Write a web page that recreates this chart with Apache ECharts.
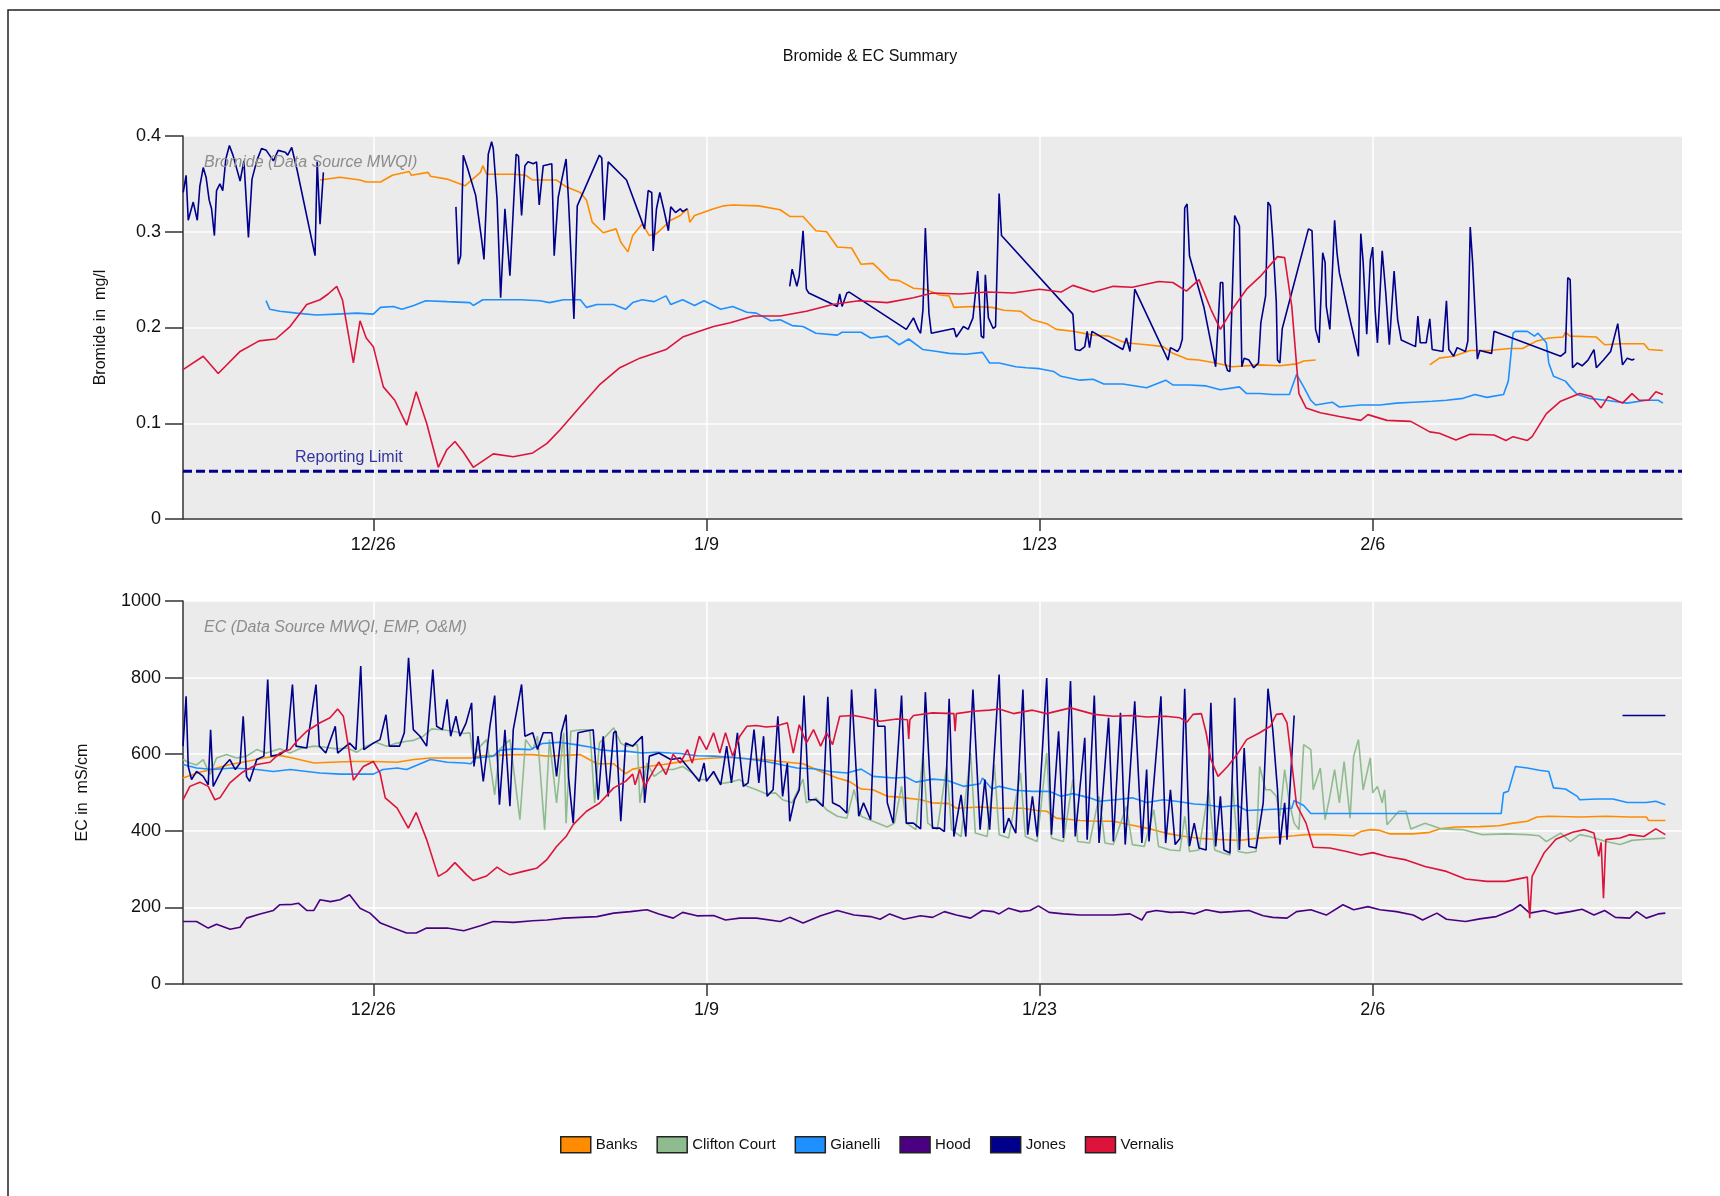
<!DOCTYPE html>
<html>
<head>
<meta charset="utf-8">
<title>Bromide & EC Summary</title>
<script src="https://cdn.jsdelivr.net/npm/echarts@6/dist/echarts.min.js"></script>
<style>
  html, body { margin: 0; padding: 0; background: #fff; }
  #chart { width: 1720px; height: 1196px; }
</style>
</head>
<body>
<div id="chart"></div>
<script>
// x values are days counted from 12/18
var tickDays = [8, 22, 36, 50];
var tickLabels = ['12/26', '1/9', '1/23', '2/6'];
var stations = ['Banks', 'Clifton Court', 'Gianelli', 'Hood', 'Jones', 'Vernalis'];
var stationColors = ['#FF8C00', '#8FBC8F', '#1E90FF', '#4B0082', '#00008B', '#DC143C'];

var reportingLimit = [[0, 0.05], [63, 0.05]];
var reportingLabelAt = [[6.97, 0.05]];

// Bromide, mg/l
var brBanks = [[5.76,0.354],[6.6,0.357],[7.44,0.354],[7.7,0.352],[8.3,0.352],[8.8,0.359],[9.5,0.363],[9.6,0.359],[10.3,0.362],[10.4,0.358],[11.1,0.355],[11.85,0.348],[12.5,0.362],[12.6,0.369],[12.76,0.360],[13.9,0.360],[14.4,0.359],[14.7,0.354],[15.7,0.354],[16.1,0.347],[16.7,0.341],[16.96,0.333],[17.2,0.310],[17.66,0.299],[18.2,0.303],[18.4,0.289],[18.7,0.279],[18.9,0.296],[19.3,0.308],[19.6,0.296],[19.9,0.298],[20.5,0.312],[20.9,0.317],[21.2,0.324],[21.3,0.310],[21.5,0.317],[22.3,0.324],[22.7,0.327],[23.1,0.328],[24.2,0.327],[25.1,0.323],[25.5,0.316],[26.06,0.316],[26.6,0.301],[27.05,0.300],[27.5,0.284],[28.1,0.283],[28.5,0.266],[29.0,0.267],[29.7,0.250],[30.1,0.249],[30.7,0.241],[31.2,0.240],[31.8,0.234],[32.2,0.233],[32.4,0.221],[33.2,0.222],[34.0,0.221],[34.5,0.218],[35.2,0.217],[35.7,0.208],[36.3,0.204],[36.7,0.198],[37.4,0.196],[38.25,0.192],[38.9,0.191],[39.6,0.184],[40.5,0.182],[41.2,0.180],[41.6,0.173],[42.2,0.167],[42.7,0.166],[43.4,0.163],[44.1,0.159],[45.25,0.161],[46.1,0.160],[46.8,0.162],[47.1,0.165],[47.6,0.166],[47.7,null],[52.4,0.161],[52.8,0.168],[53.4,0.170],[54.1,0.176],[54.9,0.176],[55.75,0.178],[56.3,0.178],[56.9,0.186],[57.4,0.189],[58.0,0.190],[58.1,0.195],[58.3,0.191],[59.4,0.190],[59.75,0.182],[60.4,0.183],[61.4,0.183],[61.6,0.177],[62.2,0.176]];

var brGianelli = [[3.49,0.228],[3.65,0.219],[4.07,0.217],[4.78,0.215],[5.6,0.213],[6.46,0.214],[7.3,0.215],[8.0,0.214],[8.3,0.221],[8.84,0.222],[9.2,0.219],[9.7,0.223],[10.2,0.228],[11.1,0.227],[12.06,0.226],[12.2,0.223],[12.6,0.229],[13.3,0.229],[14.2,0.229],[15.0,0.228],[15.4,0.226],[16.0,0.229],[16.7,0.229],[16.96,0.221],[17.4,0.224],[18.1,0.224],[18.6,0.219],[18.9,0.226],[19.3,0.229],[19.8,0.227],[20.3,0.233],[20.5,0.224],[21.0,0.229],[21.5,0.223],[21.9,0.228],[22.6,0.219],[23.1,0.222],[23.7,0.216],[24.1,0.215],[24.7,0.207],[25.1,0.208],[25.6,0.202],[26.06,0.201],[26.6,0.194],[27.5,0.192],[27.7,0.195],[28.5,0.195],[28.9,0.189],[29.6,0.191],[30.1,0.182],[30.5,0.188],[31.1,0.177],[31.7,0.175],[32.2,0.173],[32.9,0.172],[33.6,0.174],[33.9,0.163],[34.3,0.163],[35.0,0.159],[35.45,0.158],[36.0,0.157],[36.6,0.154],[36.9,0.149],[37.7,0.145],[38.25,0.146],[38.7,0.141],[39.5,0.141],[40.5,0.137],[41.3,0.145],[41.6,0.140],[42.3,0.140],[43.0,0.139],[43.6,0.135],[44.4,0.138],[44.7,0.131],[45.25,0.131],[45.8,0.130],[46.5,0.130],[46.8,0.151],[47.1,0.138],[47.4,0.124],[47.6,0.119],[48.3,0.122],[48.6,0.117],[49.5,0.119],[50.3,0.119],[51.0,0.121],[51.7,0.122],[52.5,0.123],[53.1,0.124],[53.8,0.126],[54.3,0.130],[54.8,0.127],[55.5,0.130],[55.7,0.144],[55.9,0.194],[56.0,0.196],[56.5,0.196],[56.8,0.191],[56.95,0.194],[57.3,0.184],[57.4,0.163],[57.6,0.149],[58.1,0.144],[58.3,0.138],[58.6,0.130],[59.1,0.126],[59.8,0.124],[60.7,0.121],[61.5,0.124],[62.0,0.124],[62.2,0.121]];

var brJones = [[0.01,0.341],[0.13,0.359],[0.22,0.312],[0.43,0.331],[0.6,0.312],[0.71,0.348],[0.85,0.367],[0.97,0.357],[1.1,0.333],[1.2,0.324],[1.32,0.296],[1.41,0.343],[1.55,0.350],[1.67,0.343],[1.8,0.376],[1.95,0.390],[2.1,0.380],[2.3,0.362],[2.4,0.353],[2.56,0.374],[2.75,0.294],[2.9,0.355],[3.1,0.374],[3.3,0.387],[3.5,0.385],[3.8,0.374],[4.0,0.385],[4.3,0.383],[4.4,0.380],[4.57,0.388],[4.8,0.364],[5.55,0.275],[5.64,0.373],[5.76,0.308],[5.9,0.362],[6.0,null],
  [11.47,0.326],[11.57,0.266],[11.67,0.275],[11.78,0.380],[11.95,0.367],[12.3,0.338],[12.55,0.292],[12.65,0.271],[12.83,0.381],[12.97,0.394],[13.04,0.387],[13.2,0.334],[13.35,0.231],[13.53,0.324],[13.74,0.254],[14.0,0.381],[14.1,0.379],[14.23,0.317],[14.37,0.369],[14.5,0.373],[14.72,0.371],[14.86,0.373],[14.97,0.328],[15.14,0.369],[15.5,0.371],[15.6,0.275],[15.77,0.336],[15.9,0.352],[16.1,0.376],[16.2,0.334],[16.43,0.209],[16.57,0.327],[17.5,0.380],[17.6,0.377],[17.7,0.312],[17.87,0.373],[18.64,0.354],[19.4,0.303],[19.55,0.343],[19.7,0.341],[19.76,0.280],[19.9,0.324],[20.04,0.341],[20.2,0.324],[20.4,0.301],[20.5,0.326],[20.7,0.320],[20.9,0.324],[21.0,0.321],[21.2,0.324],[21.3,null],
  [25.5,0.243],[25.6,0.261],[25.8,0.243],[25.9,0.254],[26.06,0.301],[26.2,0.240],[26.3,0.236],[27.5,0.222],[27.6,0.235],[27.7,0.222],[27.9,0.236],[28.0,0.237],[30.4,0.198],[30.7,0.210],[30.9,0.198],[31.0,0.194],[31.1,0.219],[31.2,0.304],[31.35,0.215],[31.45,0.194],[32.4,0.199],[32.5,0.190],[32.8,0.201],[33.0,0.198],[33.2,0.210],[33.4,0.259],[33.55,0.191],[33.65,0.189],[33.72,0.255],[33.85,0.210],[34.05,0.199],[34.15,0.201],[34.3,0.340],[34.4,0.296],[37.4,0.214],[37.5,0.177],[37.7,0.176],[37.9,0.180],[38.0,0.196],[38.1,0.179],[38.2,0.196],[39.5,0.177],[39.65,0.189],[39.8,0.175],[40.0,0.240],[41.4,0.166],[41.5,0.179],[41.8,0.175],[41.9,0.179],[42.0,0.188],[42.1,0.325],[42.2,0.329],[42.3,0.275],[42.9,0.222],[43.4,0.159],[43.6,0.247],[43.7,0.247],[43.8,0.163],[43.9,0.155],[44.0,0.154],[44.2,0.317],[44.4,0.306],[44.5,0.159],[44.6,0.168],[44.8,0.166],[45.0,0.158],[45.2,0.163],[45.3,0.205],[45.5,0.233],[45.6,0.331],[45.7,0.327],[45.8,0.292],[45.95,0.226],[46.0,0.166],[46.1,0.163],[46.2,0.199],[47.3,0.303],[47.45,0.301],[47.6,0.198],[47.75,0.184],[47.9,0.278],[48.0,0.268],[48.05,0.222],[48.2,0.198],[48.4,0.312],[48.5,0.278],[48.6,0.257],[49.4,0.170],[49.5,0.298],[49.6,0.268],[49.75,0.193],[49.9,0.270],[50.0,0.284],[50.1,0.219],[50.2,0.184],[50.4,0.280],[50.55,0.236],[50.7,0.182],[50.9,0.259],[51.05,0.208],[51.2,0.187],[51.8,0.180],[51.9,0.212],[52.0,0.184],[52.25,0.184],[52.4,0.209],[52.5,0.177],[52.95,0.175],[53.1,0.228],[53.2,0.177],[53.4,0.170],[53.55,0.179],[53.9,0.175],[54.0,0.186],[54.1,0.305],[54.2,0.268],[54.4,0.167],[54.5,0.176],[55.0,0.173],[55.1,0.196],[57.9,0.170],[58.1,0.174],[58.2,0.252],[58.3,0.250],[58.4,0.158],[58.6,0.163],[58.8,0.160],[59.05,0.166],[59.3,0.177],[59.4,0.158],[59.7,0.166],[60.0,0.175],[60.3,0.204],[60.5,0.161],[60.7,0.168],[60.9,0.166],[61.0,0.167]];

var brVernalis = [[0,0.156],[0.85,0.170],[1.48,0.152],[2.4,0.175],[3.2,0.186],[3.9,0.188],[4.5,0.201],[5.2,0.224],[5.76,0.229],[6.1,0.235],[6.46,0.243],[6.7,0.229],[7.16,0.163],[7.44,0.207],[7.7,0.189],[8.0,0.180],[8.42,0.138],[8.9,0.124],[9.4,0.098],[9.8,0.133],[10.24,0.100],[10.73,0.054],[11.08,0.072],[11.43,0.081],[11.78,0.070],[12.2,0.054],[13.04,0.068],[13.88,0.065],[14.7,0.069],[15.3,0.079],[15.84,0.093],[16.68,0.117],[17.5,0.140],[18.36,0.158],[19.2,0.168],[20.3,0.177],[21.0,0.190],[21.7,0.196],[22.3,0.201],[23.0,0.205],[23.97,0.212],[25.1,0.212],[26.2,0.217],[27.3,0.224],[28.4,0.228],[29.6,0.226],[30.7,0.231],[31.5,0.236],[32.65,0.235],[33.8,0.237],[34.9,0.236],[36.0,0.240],[36.9,0.237],[37.4,0.244],[38.25,0.237],[39.1,0.243],[39.9,0.242],[41.0,0.248],[41.6,0.247],[42.17,0.238],[42.7,0.250],[43.2,0.219],[43.6,0.198],[44.1,0.219],[44.7,0.240],[45.3,0.254],[46.0,0.274],[46.3,0.273],[46.6,0.222],[46.9,0.131],[47.2,0.116],[47.8,0.111],[48.6,0.107],[49.5,0.103],[49.8,0.109],[50.6,0.103],[51.6,0.102],[52.4,0.091],[52.8,0.0895],[53.5,0.0825],[54.1,0.0885],[55.1,0.0878],[55.6,0.082],[55.9,0.086],[56.5,0.082],[56.7,0.086],[57.3,0.110],[57.9,0.123],[58.7,0.131],[59.2,0.128],[59.6,0.116],[59.9,0.128],[60.5,0.121],[60.9,0.131],[61.2,0.124],[61.6,0.124],[61.9,0.133],[62.2,0.130]];

// EC, mS/cm
var ecBanks = [[0,538],[0.7,553],[1.27,561],[1.97,573],[2.67,581],[3.4,590],[4.07,597],[4.6,590],[5.5,577],[6.2,579],[7.16,581],[8.0,581],[9.0,579],[9.7,586],[10.4,590],[11.4,590],[12.1,590],[12.5,596],[13.2,597],[13.9,599],[14.7,599],[15.3,595],[16.0,597],[16.7,599],[16.96,590],[17.4,575],[18.1,575],[18.4,560],[18.6,549],[18.9,561],[19.5,568],[20.2,573],[20.9,580],[21.6,587],[22.3,590],[23.0,592],[23.7,588],[24.4,586],[25.1,581],[26.06,575],[26.8,555],[27.5,538],[28.0,529],[28.5,509],[29.0,507],[29.6,490],[30.1,488],[31.0,481],[31.5,473],[32.2,471],[32.5,459],[33.5,462],[34.3,459],[35.3,459],[35.9,453],[36.3,451],[36.7,433],[37.4,429],[37.7,427],[38.4,425],[39.1,425],[39.8,416],[40.5,407],[41.3,394],[41.9,387],[42.6,381],[43.3,378],[44.4,375],[45.25,381],[46.1,384],[46.7,387],[47.2,390],[48.2,390],[49.2,387],[49.5,398],[49.9,403],[50.3,401],[50.7,392],[51.7,392],[52.4,396],[52.8,405],[53.5,410],[54.5,411],[55.3,413],[55.9,420],[56.5,425],[56.9,436],[57.4,438],[58.7,436],[59.8,438],[60.8,436],[61.5,436],[61.6,427],[62.3,427]];

var ecCliftonCourt = [[0,586],[0.29,577],[0.57,572],[0.85,586],[1.13,547],[1.41,590],[1.83,599],[2.25,590],[2.67,595],[3.1,612],[3.5,603],[4.07,614],[4.5,603],[4.9,614],[5.5,621],[5.9,619],[6.46,614],[6.9,616],[7.3,605],[7.7,621],[8.1,631],[8.56,621],[9.0,629],[9.4,634],[9.68,636],[10.1,647],[10.45,666],[10.9,664],[11.36,660],[11.8,654],[12.06,656],[12.2,595],[12.5,621],[12.76,638],[13.1,494],[13.3,612],[13.74,638],[14.16,429],[14.4,638],[14.7,612],[14.9,647],[15.2,403],[15.4,638],[15.7,473],[16.0,656],[16.1,420],[16.3,660],[16.7,664],[17.1,664],[17.3,473],[17.5,629],[18.1,669],[18.4,629],[18.6,621],[19.1,625],[19.2,473],[19.5,577],[19.8,542],[20.2,560],[20.6,560],[21.0,568],[21.4,551],[21.7,534],[22.0,534],[22.3,551],[22.56,523],[23.0,527],[23.4,534],[23.7,516],[24.1,507],[24.5,497],[24.9,499],[25.2,481],[25.6,473],[26.06,535],[26.2,473],[26.6,486],[27.05,455],[27.5,438],[27.9,433],[28.2,507],[28.5,438],[29.0,425],[29.6,410],[29.9,420],[30.2,516],[30.4,420],[30.8,403],[31.1,603],[31.3,420],[31.7,403],[32.1,568],[32.3,403],[32.7,385],[33.1,603],[33.3,394],[33.8,385],[34.1,573],[34.3,390],[34.7,381],[35.2,551],[35.4,385],[35.9,372],[36.3,603],[36.5,381],[37.0,372],[37.4,534],[37.6,372],[38.1,368],[38.5,490],[38.75,368],[39.1,364],[39.65,464],[39.9,364],[40.4,359],[40.8,455],[41.0,359],[41.5,350],[41.9,348],[42.1,438],[42.3,346],[42.7,350],[43.1,507],[43.36,350],[43.7,342],[44.0,337],[44.1,525],[44.35,346],[44.7,342],[45.1,346],[45.25,568],[45.5,507],[45.7,507],[45.95,490],[46.1,438],[46.3,560],[46.5,473],[46.7,420],[46.9,403],[47.1,625],[47.4,612],[47.5,507],[47.8,564],[48.0,429],[48.2,490],[48.4,560],[48.6,473],[48.8,581],[49.05,433],[49.2,595],[49.4,638],[49.6,507],[49.9,590],[50.0,499],[50.2,516],[50.4,473],[50.5,507],[50.6,416],[51.1,451],[51.4,451],[51.6,405],[52.2,420],[52.9,405],[53.8,403],[54.6,390],[55.6,392],[56.5,390],[57.0,387],[57.3,372],[57.9,394],[58.3,372],[58.7,390],[59.1,385],[59.8,372],[60.4,364],[60.9,375],[61.5,378],[62.3,381]];

var ecGianelli = [[0,573],[0.57,564],[1.27,560],[2.1,564],[3.1,560],[3.8,555],[4.5,560],[5.2,555],[5.76,551],[6.6,548],[7.3,548],[8.0,548],[8.4,560],[9.0,564],[9.4,560],[9.7,568],[10.4,586],[11.1,579],[11.8,577],[12.1,575],[12.3,590],[13.04,595],[13.3,610],[13.9,614],[14.6,612],[15.1,628],[15.8,631],[16.5,625],[17.1,619],[17.5,612],[18.1,608],[18.6,608],[19.3,603],[19.9,605],[20.5,603],[20.9,602],[21.6,596],[22.3,595],[23.0,592],[23.7,588],[24.5,581],[25.1,573],[25.8,564],[26.5,562],[27.2,555],[27.9,551],[28.5,561],[29.0,542],[29.9,538],[30.4,540],[30.8,527],[31.5,535],[32.1,532],[32.8,516],[33.5,523],[33.6,538],[34.0,509],[34.3,516],[35.0,506],[35.7,503],[36.4,503],[36.9,490],[37.4,497],[38.1,486],[38.5,477],[39.2,481],[39.9,486],[40.5,474],[41.2,481],[41.9,476],[42.5,470],[43.0,468],[43.6,462],[44.3,466],[44.7,453],[45.4,455],[46.1,457],[46.6,459],[46.7,479],[47.1,466],[47.4,445],[48.9,445],[51.7,445],[55.4,445],[55.5,499],[55.7,503],[56.0,568],[56.5,564],[57.0,558],[57.4,555],[57.6,512],[58.1,509],[58.6,490],[58.7,481],[59.4,483],[60.1,483],[60.7,474],[61.5,474],[61.9,477],[62.3,468]];

var ecHood = [[0,163],[0.57,163],[1.06,146],[1.41,156],[1.98,143],[2.4,148],[2.67,172],[3.2,182],[3.8,192],[4.07,207],[4.6,208],[4.85,211],[5.2,192],[5.5,192],[5.76,220],[6.2,215],[6.6,220],[7.0,233],[7.44,198],[7.86,185],[8.3,159],[8.84,146],[9.4,133],[9.8,133],[10.24,146],[11.1,146],[11.8,139],[12.5,152],[13.04,163],[13.9,161],[14.7,165],[15.3,167],[16.0,172],[16.7,174],[17.4,176],[18.1,185],[18.8,189],[19.5,194],[20.0,183],[20.6,172],[21.0,187],[21.6,178],[22.3,179],[22.8,167],[23.4,172],[24.1,172],[25.1,163],[25.5,174],[26.06,159],[26.8,178],[27.5,192],[28.2,180],[28.9,176],[29.3,169],[29.7,183],[30.3,169],[31.0,178],[31.5,174],[32.0,189],[32.5,180],[33.1,172],[33.6,192],[34.05,189],[34.3,183],[34.7,198],[35.2,189],[35.6,192],[35.95,204],[36.4,187],[37.0,183],[37.7,180],[38.4,180],[39.1,180],[39.8,183],[40.3,167],[40.5,187],[40.9,192],[41.5,187],[42.0,188],[42.5,183],[43.0,194],[43.6,187],[44.1,189],[44.8,192],[45.4,178],[45.8,174],[46.4,172],[46.8,189],[47.4,194],[48.05,180],[48.75,207],[49.2,194],[49.8,202],[50.3,194],[51.0,189],[51.7,180],[52.1,167],[52.7,185],[53.1,169],[53.9,163],[54.5,170],[55.2,176],[55.9,194],[56.2,207],[56.6,185],[57.2,192],[57.7,183],[58.3,189],[58.8,195],[59.3,180],[59.75,192],[60.2,174],[60.8,172],[61.1,189],[61.5,172],[62.0,183],[62.3,185]];

var ecJones = [[0,621],[0.13,751],[0.22,568],[0.36,534],[0.57,555],[0.85,542],[1.06,520],[1.16,664],[1.27,516],[1.7,568],[1.97,586],[2.2,560],[2.4,577],[2.53,699],[2.67,542],[2.8,529],[3.1,586],[3.4,595],[3.56,795],[3.7,595],[4.07,599],[4.36,612],[4.6,782],[4.75,621],[5.2,616],[5.59,782],[5.73,621],[6.0,603],[6.4,673],[6.5,603],[7.0,629],[7.27,612],[7.47,830],[7.6,612],[8.0,629],[8.28,638],[8.53,703],[8.67,621],[9.1,621],[9.3,656],[9.48,852],[9.68,664],[9.96,647],[10.24,621],[10.5,821],[10.66,673],[10.9,664],[11.1,743],[11.25,647],[11.47,699],[11.64,647],[11.9,682],[12.13,734],[12.23,568],[12.4,647],[12.62,529],[12.9,673],[13.1,753],[13.3,468],[13.53,664],[13.74,464],[13.88,664],[14.23,782],[14.37,647],[14.7,656],[14.9,612],[15.14,656],[15.5,656],[15.7,542],[15.9,656],[16.1,703],[16.2,542],[16.4,420],[16.6,656],[16.9,660],[17.24,664],[17.45,481],[17.66,647],[17.87,490],[18.1,656],[18.2,660],[18.4,425],[18.6,629],[18.9,621],[19.3,647],[19.4,473],[19.6,595],[20.0,603],[20.5,586],[20.9,590],[21.3,560],[21.7,529],[21.9,577],[22.0,529],[22.3,555],[22.6,520],[22.85,621],[23.05,525],[23.3,656],[23.55,516],[23.75,525],[24.0,664],[24.2,525],[24.4,647],[24.55,490],[24.8,507],[25.0,699],[25.2,490],[25.4,577],[25.5,425],[25.7,481],[25.9,507],[26.1,753],[26.3,481],[26.6,481],[26.9,464],[27.1,750],[27.3,473],[27.6,464],[27.9,446],[28.1,769],[28.4,438],[28.6,473],[28.9,429],[29.1,771],[29.2,673],[29.5,673],[29.6,473],[29.85,420],[30.2,753],[30.4,420],[30.7,420],[31.0,405],[31.2,762],[31.5,407],[31.8,407],[32.0,398],[32.2,745],[32.4,385],[32.7,494],[32.9,385],[33.2,769],[33.5,403],[33.7,534],[33.9,403],[34.3,808],[34.5,394],[34.7,433],[35.0,394],[35.3,769],[35.5,390],[35.7,490],[35.9,385],[36.3,799],[36.5,390],[36.8,660],[37.0,381],[37.3,791],[37.5,385],[37.9,643],[38.0,377],[38.3,753],[38.5,368],[38.9,695],[39.1,372],[39.4,708],[39.6,364],[40.0,738],[40.3,368],[40.5,560],[40.6,372],[41.1,751],[41.3,368],[41.5,507],[41.7,364],[41.9,380],[42.1,771],[42.3,360],[42.5,420],[42.7,355],[43.0,350],[43.2,734],[43.4,359],[43.6,490],[43.75,350],[44.0,342],[44.2,747],[44.4,350],[44.6,616],[44.8,359],[45.1,355],[45.4,473],[45.6,771],[45.8,664],[46.0,507],[46.1,364],[46.3,473],[46.4,377],[46.7,701],[46.8,null],[60.5,701],[62.3,701]];

var ecVernalis = [[0,481],[0.29,516],[0.71,527],[1.06,516],[1.34,481],[1.55,486],[1.97,525],[2.5,553],[3.1,573],[3.66,579],[4.07,603],[4.5,612],[4.78,634],[5.2,660],[5.76,682],[6.18,695],[6.5,718],[6.74,699],[6.95,621],[7.16,532],[7.58,568],[8.0,581],[8.28,551],[8.5,486],[9.0,459],[9.47,407],[9.8,448],[10.24,377],[10.73,281],[11.08,294],[11.43,317],[11.92,285],[12.2,270],[12.76,282],[13.2,305],[13.46,294],[13.74,285],[14.3,294],[14.86,302],[15.28,324],[15.7,359],[16.1,385],[16.4,416],[16.96,451],[17.5,472],[18.1,512],[18.6,529],[18.9,548],[19.0,520],[19.2,560],[19.4,515],[19.76,555],[20.0,580],[20.3,547],[20.6,600],[20.9,577],[21.2,612],[21.4,577],[21.7,647],[22.0,612],[22.3,656],[22.56,603],[22.8,656],[23.1,595],[23.4,647],[23.7,673],[24.1,675],[24.5,671],[24.9,673],[25.4,682],[25.65,603],[25.9,677],[26.2,629],[26.5,664],[26.8,621],[27.05,656],[27.3,625],[27.6,699],[28.2,701],[28.7,695],[29.3,686],[30.0,692],[30.45,690],[30.5,640],[30.55,690],[30.7,701],[31.5,708],[32.4,706],[32.45,660],[32.5,706],[33.2,712],[33.9,715],[34.3,718],[34.9,706],[35.7,715],[36.3,706],[37.3,721],[38.3,704],[39.1,699],[39.9,701],[40.5,697],[41.3,699],[41.9,695],[42.2,684],[42.45,704],[42.8,706],[43.0,656],[43.2,586],[43.5,542],[43.9,568],[44.3,599],[44.7,638],[45.25,656],[45.7,673],[45.95,704],[46.2,706],[46.4,682],[46.6,577],[46.8,468],[47.2,420],[47.5,357],[48.2,355],[48.9,346],[49.5,337],[50.0,343],[50.6,333],[51.4,324],[52.2,307],[53.1,294],[53.9,274],[54.8,268],[55.6,268],[56.5,279],[56.6,172],[56.7,281],[57.2,342],[57.7,378],[58.4,396],[58.9,403],[59.3,394],[59.5,333],[59.6,370],[59.7,224],[59.8,377],[60.4,381],[60.8,390],[61.4,385],[61.9,405],[62.3,390]];

var font = "'Liberation Sans', Arial, sans-serif";

function colorOf(name) {
  return stationColors[stations.indexOf(name)];
}

function line(name, data, idx) {
  return {
    name: name,
    type: 'line',
    xAxisIndex: idx,
    yAxisIndex: idx,
    data: data,
    symbol: 'none',
    color: colorOf(name),
    lineStyle: { width: 1.6, color: colorOf(name) },
    emphasis: { disabled: true }
  };
}

function xAxis(idx) {
  return {
    type: 'value',
    gridIndex: idx,
    min: 0,
    max: 63,
    axisLine: { show: true, onZero: false, lineStyle: { color: '#333', width: 1.5 } },
    axisTick: { show: true, customValues: tickDays, length: 12, lineStyle: { color: '#333', width: 1.5 } },
    axisLabel: {
      customValues: tickDays,
      formatter: function (v) { return tickLabels[tickDays.indexOf(v)]; },
      fontFamily: font, fontSize: 18, color: '#111', margin: 17
    },
    splitLine: { show: true, lineStyle: { color: '#fff', width: 1.5 } }
  };
}

function yAxis(idx, max, interval, name, gap) {
  return {
    type: 'value',
    gridIndex: idx,
    min: 0,
    max: max,
    interval: interval,
    name: name,
    nameLocation: 'middle',
    nameGap: gap,
    nameTextStyle: { fontFamily: font, fontSize: 16, color: '#111' },
    axisLine: { show: true, lineStyle: { color: '#333', width: 1.5 } },
    axisTick: { show: true, length: 18, lineStyle: { color: '#333', width: 1.5 } },
    axisLabel: {
      formatter: function (v) { return String(v); },
      fontFamily: font, fontSize: 18, color: '#111', margin: 22
    },
    splitLine: { show: true, lineStyle: { color: '#fff', width: 1.5 } }
  };
}

var chart = echarts.init(document.getElementById('chart'));
var option = {
  backgroundColor: '#fff',
  animation: false,
  title: [
    { text: 'Bromide & EC Summary', left: 870, top: 49, textAlign: 'center', padding: 0,
      textStyle: { fontFamily: font, fontSize: 16, fontWeight: 'normal', color: '#111' } },
    { text: 'Bromide (Data Source MWQI)', left: 204, top: 155, padding: 0,
      textStyle: { fontFamily: font, fontSize: 16, fontStyle: 'italic', fontWeight: 'normal', color: '#8c8c8c' } },
    { text: 'EC (Data Source MWQI, EMP, O&M)', left: 204, top: 620, padding: 0,
      textStyle: { fontFamily: font, fontSize: 16, fontStyle: 'italic', fontWeight: 'normal', color: '#8c8c8c' } }
  ],
  legend: {
    data: stations,
    left: 560,
    top: 1136,
    padding: 0,
    itemWidth: 30,
    itemHeight: 16,
    itemGap: 19,
    icon: 'rect',
    itemStyle: { borderColor: '#222', borderWidth: 1.5 },
    textStyle: { fontFamily: font, fontSize: 15, color: '#111' }
  },
  graphic: [
    { type: 'rect', silent: true, z: -1,
      shape: { x: 8, y: 10, width: 1800, height: 1300 },
      style: { fill: null, stroke: '#222', lineWidth: 1.5 } }
  ],
  grid: [
    { left: 183, top: 136, width: 1499, height: 383, show: true, backgroundColor: '#EBEBEB', borderWidth: 0 },
    { left: 183, top: 601, width: 1499, height: 383, show: true, backgroundColor: '#EBEBEB', borderWidth: 0 }
  ],
  xAxis: [xAxis(0), xAxis(1)],
  yAxis: [
    yAxis(0, 0.4, 0.1, 'Bromide in  mg/l', 74),
    yAxis(1, 1000, 200, 'EC in  mS/cm', 92)
  ],
  series: [
    {
      name: 'Reporting Limit', type: 'line', xAxisIndex: 0, yAxisIndex: 0,
      data: reportingLimit, symbol: 'none', silent: true,
      lineStyle: { color: '#00008B', width: 3, type: [9, 4] }
    },
    {
      name: 'Reporting Limit Label', type: 'scatter', xAxisIndex: 0, yAxisIndex: 0,
      data: reportingLabelAt, symbolSize: 0, silent: true,
      label: { show: true, position: 'top', distance: 6, formatter: 'Reporting Limit',
        fontFamily: font, fontSize: 16, color: '#00008B' }
    },
    line('Banks', brBanks, 0),
    line('Gianelli', brGianelli, 0),
    line('Jones', brJones, 0),
    line('Vernalis', brVernalis, 0),
    line('Banks', ecBanks, 1),
    line('Clifton Court', ecCliftonCourt, 1),
    line('Gianelli', ecGianelli, 1),
    line('Hood', ecHood, 1),
    line('Jones', ecJones, 1),
    line('Vernalis', ecVernalis, 1)
  ]
};
chart.setOption(option);
</script>
</body>
</html>
